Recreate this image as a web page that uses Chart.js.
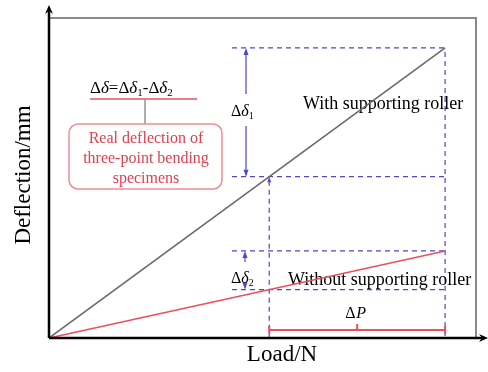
<!DOCTYPE html>
<html>
<head>
<meta charset="utf-8">
<script src="https://cdn.jsdelivr.net/npm/chart.js@4.4.0/dist/chart.umd.min.js"></script>
<style>
  html, body { margin: 0; padding: 0; background: #fff; }
  #wrap { width: 488px; height: 372px; }
</style>
</head>
<body>
<div id="wrap"><canvas id="myChart" width="488" height="372"></canvas></div>
<script>
// data (schematic units)
const load = [0, 10];
const withRoller = [0, 10];
const withoutRoller = [0, 3];
const loadP1 = 5.56;   // start of delta P
const loadP2 = 10;     // end of delta P
const xMax = 10.78;
const yMax = 11.03;

const serif = '"Liberation Serif", "Times New Roman", serif';
const blue = '#4a4acb';
const red = '#e8505f';

function pt(xs, ys) {
    return xs.map((x, i) => ({ x: x, y: ys[i] }));
}

// deflections at the first load
const d1a = withRoller[1] * loadP1 / load[1];
const d2a = withoutRoller[1] * loadP1 / load[1];

function dashed(ctx, x1, y1, x2, y2) {
    ctx.save();
    ctx.strokeStyle = blue;
    ctx.lineWidth = 1.2;
    ctx.setLineDash([5, 4]);
    ctx.beginPath();
    ctx.moveTo(x1, y1);
    ctx.lineTo(x2, y2);
    ctx.stroke();
    ctx.restore();
}

function arrowHead(ctx, x, y, dir, color, size) {
    // dir: 1 = pointing down, -1 = pointing up
    ctx.save();
    ctx.fillStyle = color;
    ctx.beginPath();
    ctx.moveTo(x, y);
    ctx.lineTo(x - size / 2, y - dir * size * 1.4);
    ctx.lineTo(x + size / 2, y - dir * size * 1.4);
    ctx.closePath();
    ctx.fill();
    ctx.restore();
}

function doubleArrow(ctx, x, yTop, yBot, gapTop, gapBot) {
    ctx.save();
    ctx.strokeStyle = blue;
    ctx.lineWidth = 1.2;
    ctx.beginPath();
    ctx.moveTo(x, yTop + 2);
    ctx.lineTo(x, gapTop);
    ctx.moveTo(x, gapBot);
    ctx.lineTo(x, yBot - 2);
    ctx.stroke();
    ctx.restore();
    arrowHead(ctx, x, yTop, -1, blue, 5);
    arrowHead(ctx, x, yBot, 1, blue, 5);
}

function delta(ctx, x, y, sub, size) {
    // draws "Δδ" with subscript
    ctx.save();
    ctx.fillStyle = '#000';
    ctx.textBaseline = 'alphabetic';
    ctx.textAlign = 'left';
    ctx.font = size + 'px ' + serif;
    ctx.fillText('\u0394', x, y);
    let w = ctx.measureText('\u0394').width;
    ctx.font = 'italic ' + size + 'px ' + serif;
    ctx.fillText('\u03b4', x + w, y);
    w += ctx.measureText('\u03b4').width;
    if (sub) {
        ctx.font = Math.round(size * 0.65) + 'px ' + serif;
        ctx.fillText(sub, x + w, y + 3);
        w += ctx.measureText(sub).width;
    }
    ctx.restore();
    return w;
}

const schematic = {
    id: 'schematic',
    beforeDatasetsDraw(chart) {
        const ctx = chart.ctx;
        const xs = chart.scales.x, ys = chart.scales.y;
        const a = chart.chartArea;
        const xP1 = xs.getPixelForValue(loadP1);
        const xP2 = xs.getPixelForValue(loadP2);
        const yTop1 = ys.getPixelForValue(withRoller[1]);
        const yMid1 = ys.getPixelForValue(d1a);
        const yTop2 = ys.getPixelForValue(withoutRoller[1]);
        const yMid2 = ys.getPixelForValue(d2a);
        const xLeft = 232;

        // frame: gray top/right
        ctx.save();
        ctx.strokeStyle = '#8a8a8a';
        ctx.lineWidth = 2;
        ctx.beginPath();
        ctx.moveTo(a.left, a.top);
        ctx.lineTo(a.right, a.top);
        ctx.lineTo(a.right, a.bottom);
        ctx.stroke();
        ctx.restore();

        // dashed guide lines
        dashed(ctx, xLeft, yTop1, xP2, yTop1);
        dashed(ctx, xLeft, yMid1, xP2, yMid1);
        dashed(ctx, xLeft, yTop2, xP2, yTop2);
        dashed(ctx, xLeft, yMid2, xP2, yMid2);
        dashed(ctx, xP1, yMid1 + 4, xP1, a.bottom);
        dashed(ctx, xP2, yTop1 + 4, xP2, a.bottom);
        arrowHead(ctx, xP1, yMid1, -1, blue, 4);

        // delta delta arrows
        doubleArrow(ctx, 246, yTop1, yMid1, 94, 126);
        doubleArrow(ctx, 245, yTop2, yMid2, 262, 285);
        delta(ctx, 231, 116, '1', 16);
        delta(ctx, 231, 283, '2', 16);

        // delta P bracket
        const yb = a.bottom - 8;
        ctx.save();
        ctx.strokeStyle = red;
        ctx.lineWidth = 2;
        ctx.beginPath();
        ctx.moveTo(xP1, yb);
        ctx.lineTo(xP2, yb);
        ctx.moveTo(xP1, yb - 4);
        ctx.lineTo(xP1, yb + 4);
        ctx.moveTo(xP2, yb - 4);
        ctx.lineTo(xP2, yb + 4);
        ctx.moveTo((xP1 + xP2) / 2, yb);
        ctx.lineTo((xP1 + xP2) / 2, yb - 6);
        ctx.stroke();
        ctx.fillStyle = '#000';
        ctx.textAlign = 'left';
        ctx.font = '16px ' + serif;
        const cx = (xP1 + xP2) / 2;
        ctx.fillText('\u0394', cx - 12, 318);
        ctx.font = 'italic 16px ' + serif;
        ctx.fillText('P', cx - 1, 318);
        ctx.restore();

        // series labels
        ctx.save();
        ctx.fillStyle = '#000';
        ctx.font = '18px ' + serif;
        ctx.textAlign = 'left';
        ctx.fillText('With supporting roller', 303, 109);
        ctx.fillText('Without supporting roller', 288, 285);
        ctx.restore();

        // left annotation
        ctx.save();
        const x0 = 90, yb0 = 93, fs = 17;
        let w = delta(ctx, x0, yb0, '', fs);
        ctx.font = fs + 'px ' + serif;
        ctx.fillStyle = '#000';
        ctx.fillText('=', x0 + w, yb0);
        w += ctx.measureText('=').width;
        w += delta(ctx, x0 + w, yb0, '1', fs);
        ctx.font = fs + 'px ' + serif;
        ctx.fillText('-', x0 + w, yb0);
        w += ctx.measureText('-').width;
        delta(ctx, x0 + w, yb0, '2', fs);

        ctx.strokeStyle = red;
        ctx.lineWidth = 1.5;
        ctx.beginPath();
        ctx.moveTo(90, 99);
        ctx.lineTo(197, 99);
        ctx.stroke();
        ctx.strokeStyle = '#777';
        ctx.lineWidth = 1.2;
        ctx.beginPath();
        ctx.moveTo(145, 100);
        ctx.lineTo(145, 124);
        ctx.stroke();

        ctx.strokeStyle = '#ef8c96';
        ctx.lineWidth = 1.5;
        ctx.beginPath();
        ctx.roundRect(69, 124, 153, 65, 9);
        ctx.stroke();
        ctx.fillStyle = '#e0404f';
        ctx.font = '16px ' + serif;
        ctx.textAlign = 'center';
        ctx.fillText('Real deflection of', 146, 143);
        ctx.fillText('three-point bending', 146, 163);
        ctx.fillText('specimens', 146, 183);
        ctx.restore();
    },
    afterDatasetsDraw(chart) {
        const ctx = chart.ctx;
        const a = chart.chartArea;
        ctx.save();
        ctx.strokeStyle = '#000';
        ctx.fillStyle = '#000';
        ctx.lineWidth = 2.5;
        ctx.beginPath();
        ctx.moveTo(a.left, a.bottom);
        ctx.lineTo(a.left, 10);
        ctx.moveTo(a.left, a.bottom);
        ctx.lineTo(484, a.bottom);
        ctx.stroke();
        ctx.beginPath();
        ctx.moveTo(a.left, 5);
        ctx.lineTo(a.left - 4, 14);
        ctx.lineTo(a.left, 11);
        ctx.lineTo(a.left + 4, 14);
        ctx.closePath();
        ctx.fill();
        ctx.beginPath();
        ctx.moveTo(488, a.bottom);
        ctx.lineTo(479, a.bottom - 4);
        ctx.lineTo(482, a.bottom);
        ctx.lineTo(479, a.bottom + 4);
        ctx.closePath();
        ctx.fill();

        // axis titles
        ctx.font = '23px ' + serif;
        ctx.textAlign = 'center';
        ctx.textBaseline = 'middle';
        ctx.fillText('Load/N', 282, 355);
        ctx.translate(24, 175);
        ctx.rotate(-Math.PI / 2);
        ctx.fillText('Deflection/mm', 0, 0);
        ctx.restore();
    }
};

const config = {
    type: 'scatter',
    data: {
        datasets: [{
            label: 'With supporting roller',
            data: pt(load, withRoller),
            showLine: true,
            borderColor: '#6b6b6b',
            borderWidth: 1.6,
            pointRadius: 0
        }, {
            label: 'Without supporting roller',
            data: pt(load, withoutRoller),
            showLine: true,
            borderColor: red,
            borderWidth: 1.6,
            pointRadius: 0
        }]
    },
    options: {
        responsive: false,
        animation: false,
        layout: { padding: { left: 49, top: 18, right: 12, bottom: 34 } },
        plugins: { legend: { display: false }, tooltip: { enabled: false } },
        scales: {
            x: { type: 'linear', min: 0, max: xMax, display: false },
            y: { type: 'linear', min: 0, max: yMax, display: false }
        }
    },
    plugins: [schematic]
};

const myChart = new Chart(document.getElementById('myChart'), config);
</script>
</body>
</html>
